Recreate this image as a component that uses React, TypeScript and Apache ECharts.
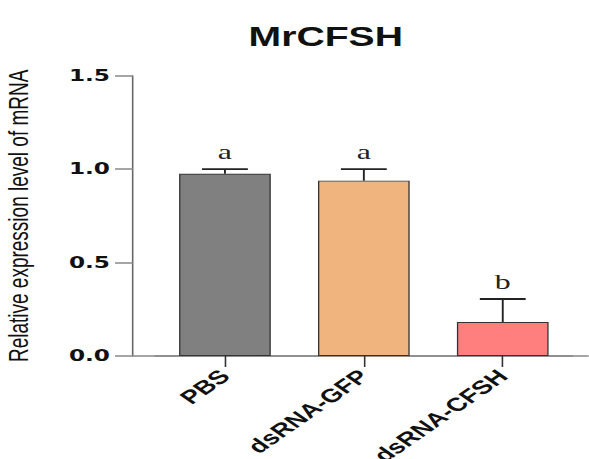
import React, { useEffect, useRef } from "react";
import * as echarts from "echarts";

const categories = ["PBS", "dsRNA-GFP", "dsRNA-CFSH"];
const means = [0.975, 0.938, 0.182];
const errors = [0.025, 0.062, 0.123];
const letters = ["a", "a", "b"];
const colors = ["#808080", "#F0B57E", "#FF7F7F"];
const yTicks = [0, 0.5, 1.0, 1.5];
const titleText = "MrCFSH";
const yName = "Relative expression level of mRNA";

// The reference figure is horizontally stretched; the chart is drawn at a narrower
// width and stretched by CSS so text, bars and angles match.
const STRETCH = 1.45;
const W = 589 / STRETCH;
const H = 459;

export default function App() {
  const ref = useRef<HTMLDivElement>(null);
  useEffect(() => {
    if (!ref.current) return;
    const chart = echarts.init(ref.current, undefined, { renderer: "svg" });
    const errData = means.map((m, i) => [i, m, m + errors[i]]);
    const axisX = 133 / STRETCH;
    chart.setOption({
      animation: false,
      backgroundColor: "#ffffff",
      title: {
        text: titleText,
        left: 318.5 / STRETCH,
        top: 32,
        textAlign: "center",
        textVerticalAlign: "middle",
        textStyle: {
          fontFamily: "'Liberation Sans', Arial, sans-serif",
          fontWeight: "bold",
          fontSize: 27,
          color: "#111",
        },
      },
      grid: [
        {
          left: 155.5 / STRETCH,
          right: 16.5 / STRETCH,
          top: 75.7,
          bottom: 103,
          containLabel: false,
          outerBoundsMode: "none",
        },
        {
          left: axisX,
          right: 0,
          top: 75.7,
          bottom: 103,
          containLabel: false,
          outerBoundsMode: "none",
        },
      ],
      xAxis: [
        {
          type: "category",
          gridIndex: 0,
          data: categories,
          axisLine: { show: true, lineStyle: { color: "#888", width: 1.5 } },
          axisTick: { show: true, alignWithLabel: true, length: 11, lineStyle: { color: "#333", width: 1.1 } },
          axisLabel: {
            rotate: 45,
            margin: 17,
            interval: 0,
            fontFamily: "'Liberation Sans', Arial, sans-serif",
            fontWeight: "bold",
            fontSize: 19,
            color: "#111",
          },
        },
        {
          type: "value",
          gridIndex: 1,
          min: 0,
          max: 1,
          axisLine: { show: true, onZero: false, lineStyle: { color: "#888", width: 1.5 } },
          axisTick: { show: false },
          axisLabel: { show: false },
          splitLine: { show: false },
        },
      ],
      yAxis: [
        {
          type: "value",
          gridIndex: 0,
          min: 0,
          max: 1.5,
          interval: 0.5,
          offset: 22.5 / STRETCH,
          name: yName,
          nameLocation: "middle",
          nameGap: 69,
          nameTextStyle: {
            fontFamily: "'Liberation Sans', Arial, sans-serif",
            fontSize: 19,
            color: "#111",
          },
          axisLine: { show: true, lineStyle: { color: "#666", width: 1.1 } },
          axisTick: { show: true, length: 18 / STRETCH, lineStyle: { color: "#888", width: 1.5 } },
          axisLabel: {
            margin: 23 / STRETCH,
            fontFamily: "'DejaVu Sans', sans-serif",
            fontWeight: "bold",
            fontSize: 16,
            color: "#111",
            formatter: (v: number) => (yTicks.includes(v) ? v.toFixed(1) : ""),
          },
          splitLine: { show: false },
        },
        {
          type: "value",
          gridIndex: 1,
          show: false,
          min: 0,
          max: 1.5,
        },
      ],
      series: [
        {
          type: "bar",
          xAxisIndex: 0,
          yAxisIndex: 0,
          barWidth: "66%",
          data: means.map((v, i) => ({
            value: v,
            itemStyle: { color: colors[i], borderColor: "#333", borderWidth: 0.9 },
          })),
          z: 2,
        },
        {
          type: "custom",
          xAxisIndex: 0,
          yAxisIndex: 0,
          data: errData,
          z: 3,
          renderItem: (params: any, api: any) => {
            const x = api.value(0);
            const bottom = api.coord([x, api.value(1)]);
            const top = api.coord([x, api.value(2)]);
            const bw = (api.size([1, 0])[0] as number) * 0.66;
            const half = bw / 4;
            return {
              type: "group",
              children: [
                {
                  type: "line",
                  shape: { x1: top[0], y1: bottom[1], x2: top[0], y2: top[1] },
                  style: { stroke: "#222", lineWidth: 1.3 },
                },
                {
                  type: "line",
                  shape: { x1: top[0] - half, y1: top[1], x2: top[0] + half, y2: top[1] },
                  style: { stroke: "#222", lineWidth: 1.8 },
                },
                {
                  type: "text",
                  x: top[0],
                  y: top[1] - 6,
                  style: {
                    text: letters[params.dataIndex],
                    fontFamily: "'Liberation Serif', serif",
                    fontSize: 22,
                    fill: "#222",
                    align: "center",
                    verticalAlign: "bottom",
                  },
                },
              ],
            };
          },
        },
      ],
    });
    return () => chart.dispose();
  }, []);
  return (
    <div
      ref={ref}
      style={{
        width: W,
        height: H,
        position: "absolute",
        left: 0,
        top: 0,
        transform: `scaleX(${STRETCH})`,
        transformOrigin: "0 0",
      }}
    />
  );
}
